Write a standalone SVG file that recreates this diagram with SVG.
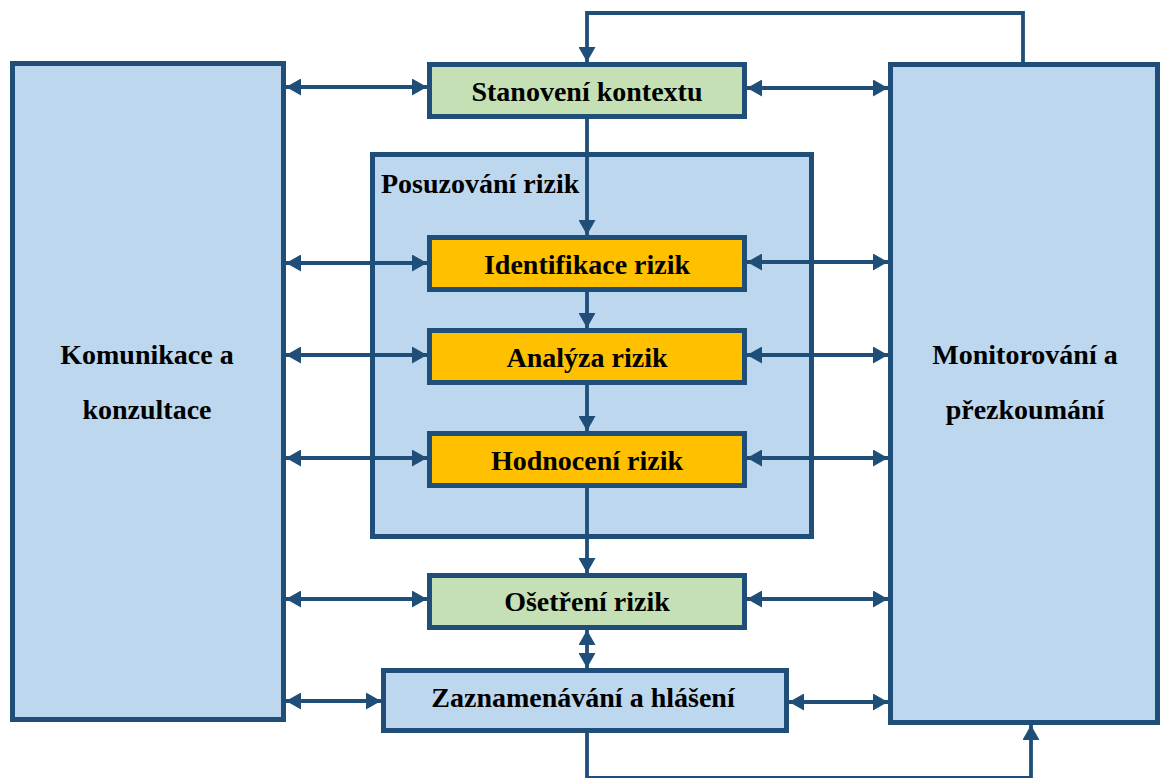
<svg xmlns="http://www.w3.org/2000/svg" width="1162" height="778" viewBox="0 0 1162 778">
  <style>
    .box { stroke: #1F4E79; stroke-width: 5; }
    .blue { fill: #BDD7EE; }
    .green { fill: #C5E0B4; }
    .orange { fill: #FFC000; }
    .lbl { font-family: "Liberation Serif", "Times New Roman", serif; font-weight: bold; font-size: 28px; fill: #000; }
    .mid { text-anchor: middle; }
    .con { stroke: #1F4E79; stroke-width: 3.8; fill: none; }
  </style>
  <defs>
    <marker id="ah" markerUnits="userSpaceOnUse" markerWidth="16" markerHeight="17" refX="15" refY="8.5" orient="auto-start-reverse" viewBox="0 0 16 17">
      <path d="M0,0 L15,8.5 L0,17 z" fill="#1F4E79"/>
    </marker>
  </defs>
  <rect width="1162" height="778" fill="#fff"/>

  <g id="komunikace">
    <rect class="box blue" x="12.5" y="63.5" width="271" height="656"/>
    <text class="lbl mid" x="147" y="364">Komunikace a</text>
    <text class="lbl mid" x="147" y="419">konzultace</text>
  </g>
  <g id="monitorovani">
    <rect class="box blue" x="890.5" y="64.5" width="267" height="658"/>
    <text class="lbl mid" x="1025" y="364">Monitorování a</text>
    <text class="lbl mid" x="1025" y="419">přezkoumání</text>
  </g>
  <g id="posuzovani">
    <rect class="box blue" x="372.5" y="154.5" width="439" height="382"/>
    <text class="lbl" x="381" y="193">Posuzování rizik</text>
  </g>

  <g id="connectors">
    <polyline class="con" points="1023,62 1023,13 587,13 587,62" marker-end="url(#ah)"/>
    <line class="con" x1="587" y1="119" x2="587" y2="235" marker-end="url(#ah)"/>
    <line class="con" x1="587" y1="292" x2="587" y2="328" marker-end="url(#ah)"/>
    <line class="con" x1="587" y1="385" x2="587" y2="431" marker-end="url(#ah)"/>
    <line class="con" x1="587" y1="488" x2="587" y2="573" marker-end="url(#ah)"/>
    <line class="con" x1="587" y1="630" x2="587" y2="668" marker-start="url(#ah)" marker-end="url(#ah)"/>
    <polyline class="con" points="587,733 587,778 1031,778 1031,725" marker-end="url(#ah)"/>

    <line class="con" x1="286" y1="87" x2="427" y2="87" marker-start="url(#ah)" marker-end="url(#ah)"/>
    <line class="con" x1="747" y1="88" x2="888" y2="88" marker-start="url(#ah)" marker-end="url(#ah)"/>
    <line class="con" x1="286" y1="263" x2="427" y2="263" marker-start="url(#ah)" marker-end="url(#ah)"/>
    <line class="con" x1="747" y1="262" x2="888" y2="262" marker-start="url(#ah)" marker-end="url(#ah)"/>
    <line class="con" x1="286" y1="355" x2="427" y2="355" marker-start="url(#ah)" marker-end="url(#ah)"/>
    <line class="con" x1="747" y1="355" x2="888" y2="355" marker-start="url(#ah)" marker-end="url(#ah)"/>
    <line class="con" x1="286" y1="458" x2="427" y2="458" marker-start="url(#ah)" marker-end="url(#ah)"/>
    <line class="con" x1="747" y1="458" x2="888" y2="458" marker-start="url(#ah)" marker-end="url(#ah)"/>
    <line class="con" x1="286" y1="599" x2="427" y2="599" marker-start="url(#ah)" marker-end="url(#ah)"/>
    <line class="con" x1="747" y1="599" x2="888" y2="599" marker-start="url(#ah)" marker-end="url(#ah)"/>
    <line class="con" x1="286" y1="701" x2="381" y2="701" marker-start="url(#ah)" marker-end="url(#ah)"/>
    <line class="con" x1="789" y1="702" x2="888" y2="702" marker-start="url(#ah)" marker-end="url(#ah)"/>
  </g>

  <g id="stanoveni">
    <rect class="box green" x="429.5" y="64.5" width="315" height="52"/>
    <text class="lbl mid" x="587" y="101">Stanovení kontextu</text>
  </g>
  <g id="identifikace">
    <rect class="box orange" x="429.5" y="237.5" width="315" height="52"/>
    <text class="lbl mid" x="587" y="274">Identifikace rizik</text>
  </g>
  <g id="analyza">
    <rect class="box orange" x="429.5" y="330.5" width="315" height="52"/>
    <text class="lbl mid" x="587" y="367">Analýza rizik</text>
  </g>
  <g id="hodnoceni">
    <rect class="box orange" x="429.5" y="433.5" width="315" height="52"/>
    <text class="lbl mid" x="587" y="470">Hodnocení rizik</text>
  </g>
  <g id="osetreni">
    <rect class="box green" x="429.5" y="575.5" width="315" height="52"/>
    <text class="lbl mid" x="587" y="611">Ošetření rizik</text>
  </g>
  <g id="zaznamenavani">
    <rect class="box blue" x="383.5" y="670.5" width="403" height="60"/>
    <text class="lbl mid" x="583" y="707">Zaznamenávání a hlášení</text>
  </g>
</svg>
